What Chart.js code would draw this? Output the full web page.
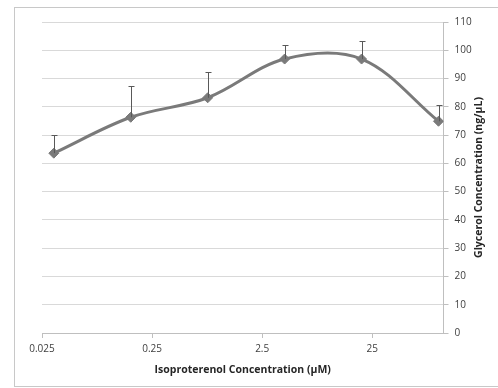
<!DOCTYPE html>
<html>
<head>
<meta charset="utf-8">
<script src="https://cdn.jsdelivr.net/npm/chart.js@4.4.1/dist/chart.umd.min.js"></script>
<style>
  html, body { margin: 0; padding: 0; background: #fff; }
  #wrap { position: relative; width: 498px; height: 388px; }
  #frame { position: absolute; left: 14px; top: 7px; width: 500px; height: 378px; border: 1px solid #c8c8c8; }
  canvas { position: absolute; left: 0; top: 0; }
</style>
</head>
<body>
<div id="wrap">
  <div id="frame"></div>
  <canvas id="chart" width="498" height="388"></canvas>
</div>
<script>
// Isoproterenol concentration (uM), 5-fold dilutions
const concentrations = [0.032, 0.16, 0.8, 4, 20, 100];
// Glycerol concentration (ng/uL)
const glycerol = [63.6, 76.3, 83.2, 96.9, 96.9, 74.9];
// upper error bar lengths
const glycerolErr = [6.6, 10.9, 9.1, 4.8, 6.3, 5.6];
const xTicks = [0.025, 0.25, 2.5, 25];
const yTicks = [0, 10, 20, 30, 40, 50, 60, 70, 80, 90, 100, 110];
const yTitle = 'Glycerol Concentration (ng/\u00b5L)';

const errorBars = {
  id: 'errorBars',
  afterDatasetsDraw(chart) {
    const ctx = chart.ctx;
    const xs = chart.scales.x, ys = chart.scales.y;
    ctx.save();
    ctx.strokeStyle = '#595959';
    ctx.lineWidth = 1;
    concentrations.forEach((c, i) => {
      const px = Math.round(xs.getPixelForValue(c)) + 0.5;
      const y0 = ys.getPixelForValue(glycerol[i]);
      const y1 = Math.round(ys.getPixelForValue(glycerol[i] + glycerolErr[i])) + 0.5;
      ctx.beginPath();
      ctx.moveTo(px, y0);
      ctx.lineTo(px, y1);
      ctx.moveTo(px - 3, y1);
      ctx.lineTo(px + 3, y1);
      ctx.stroke();
    });
    ctx.restore();
  }
};

// right axis title reads bottom-to-top like the original
const rightTitle = {
  id: 'rightTitle',
  afterDraw(chart) {
    const ctx = chart.ctx;
    const a = chart.chartArea;
    ctx.save();
    ctx.translate(479, (a.top + a.bottom) / 2);
    ctx.rotate(-Math.PI / 2);
    ctx.fillStyle = '#262626';
    ctx.font = 'bold 10.5px "Open Sans"';
    ctx.textAlign = 'center';
    ctx.textBaseline = 'middle';
    ctx.fillText(yTitle, 0, 0);
    ctx.restore();
  }
};

const ctx = document.getElementById('chart').getContext('2d');
new Chart(ctx, {
  type: 'scatter',
  data: {
    datasets: [{
      data: concentrations.map((c, i) => ({ x: c, y: glycerol[i] })),
      showLine: true,
      borderColor: '#7a7a7a',
      backgroundColor: '#7a7a7a',
      borderWidth: 3,
      tension: 0.35,
      pointStyle: 'rectRot',
      pointRadius: 5,
      pointBorderWidth: 1
    }]
  },
  options: {
    responsive: false,
    animation: false,
    layout: { padding: { left: 42, top: 22, right: 0, bottom: 0 } },
    plugins: { legend: { display: false }, tooltip: { enabled: false } },
    scales: {
      x: {
        type: 'logarithmic',
        min: 0.025,
        max: 111,
        afterBuildTicks: s => { s.ticks = xTicks.map(v => ({ value: v })); },
        afterFit: s => { s.height = 55; },
        grid: { drawOnChartArea: false, tickColor: '#bfbfbf', tickLength: 5 },
        border: { color: '#bfbfbf' },
        ticks: {
          color: '#404040',
          font: { family: 'Open Sans', size: 10 },
          padding: 5,
          maxRotation: 0,
          autoSkip: false,
          callback: v => String(v)
        },
        title: {
          display: true,
          text: 'Isoproterenol Concentration (\u00b5M)',
          color: '#262626',
          font: { family: 'Open Sans', size: 10.5, weight: 'bold' },
          padding: { top: 2, bottom: 12 }
        }
      },
      y: {
        position: 'right',
        min: 0,
        max: 110,
        afterBuildTicks: s => { s.ticks = yTicks.map(v => ({ value: v })); },
        afterFit: s => { s.width = 54.5; },
        grid: { color: '#d9d9d9', tickColor: '#bfbfbf', tickLength: 5 },
        border: { color: '#bfbfbf' },
        ticks: {
          color: '#404040',
          font: { family: 'Open Sans', size: 10 },
          padding: 6
        }
      }
    }
  },
  plugins: [errorBars, rightTitle]
});
</script>
</body>
</html>
